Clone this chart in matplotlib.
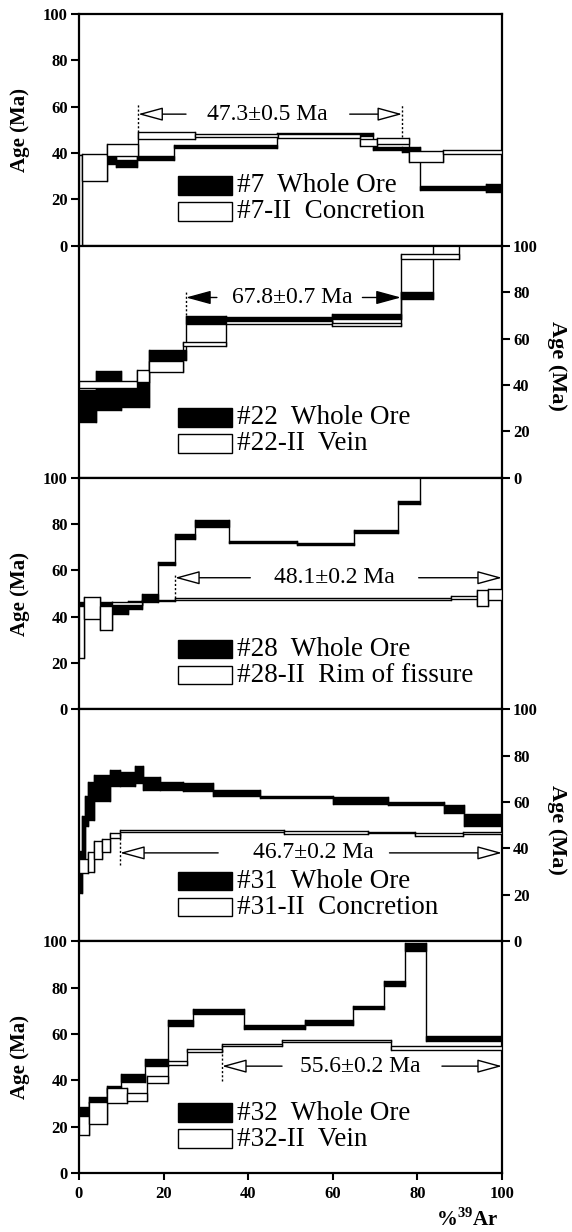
import matplotlib
matplotlib.use("Agg")
import matplotlib.pyplot as plt
from matplotlib.patches import Rectangle

plt.rcParams['font.family'] = ['Liberation Serif', 'DejaVu Serif']
plt.rcParams['mathtext.fontset'] = 'custom'
plt.rcParams['mathtext.rm'] = 'Liberation Serif:bold'
plt.rcParams['mathtext.bf'] = 'Liberation Serif:bold'

# ---------------- data (cumulative %39Ar edges, age Ma, 1-sigma band) ----------------
# Panel 1: #7
whole7_edges = [0, 6.2, 8.8, 13.6, 22.4, 46.9, 69.4, 76.4, 80.7, 96.3, 100]
whole7_age = [38, 37, 35.5, 37.8, 42.8, 48, 42, 41.5, 25, 25]
whole7_err = [1.3, 1.5, 1.6, 1.0, 0.7, 0.7, 0.8, 1.0, 0.8, 1.6]
vein7_edges = [0, 0.6, 6.7, 14, 27.5, 47, 66.5, 70.5, 78, 86, 100]
vein7_age = [19.5, 33.8, 41.3, 47.5, 47.5, 47.3, 44.5, 45.2, 38.5, 40.5]
vein7_err = [19.5, 5.8, 2.5, 1.5, 0.7, 1.0, 1.5, 1.4, 2.3, 1.0]

# Panel 2: #22
whole22_edges = [0, 4, 10, 16.5, 25.3, 34.7, 59.7, 76.1, 83.8, 100]
whole22_age = [31, 37.5, 36, 53, 68, 68, 69.5, 78.5, 110]
whole22_err = [6.9, 8.3, 5.4, 2.2, 1.8, 1.2, 1.0, 1.5, 2]
vein22_edges = [0, 13.6, 16.5, 24.6, 34.7, 59.7, 76.1, 89.8, 100]
vein22_age = [40.3, 43.9, 48, 57.5, 66.9, 66.2, 95.3, 110]
vein22_err = [1.5, 2.5, 2.5, 0.8, 0.7, 0.7, 1.1, 2]

# Panel 3: #28
whole28_edges = [0, 7.9, 11.5, 15, 18.6, 22.7, 27.5, 35.5, 51.5, 65, 75.5, 80.5, 100]
whole28_age = [45.8, 42.9, 45.1, 48, 63, 74.5, 80.3, 72.3, 71.5, 76.7, 89.4, 110]
whole28_err = [0.6, 1.8, 1.8, 1.8, 0.8, 1.0, 1.4, 0.5, 0.5, 0.5, 0.7, 2]
vein28_edges = [0, 1.3, 5.0, 7.9, 15, 22.7, 88, 94.1, 96.7, 100]
vein28_age = [33.5, 43.7, 39.4, 45.8, 47, 47.7, 48.3, 48.2, 49.6]
vein28_err = [11.2, 4.7, 5.1, 0.7, 0.4, 0.35, 0.7, 3.5, 2.2]

# Panel 4: #31
whole31_edges = [0, 0.7, 1.4, 2.2, 3.5, 7.3, 9.7, 13.2, 15.2, 19.1, 24.7, 31.6,
                 42.8, 60, 73, 86.4, 91.1, 100]
whole31_age = [30, 45, 56, 60.5, 66, 70.4, 70, 71.8, 68, 67, 66.5, 64, 62.2,
               60.7, 59.5, 57, 52.3]
whole31_err = [9, 9, 6.5, 8, 5.7, 3.6, 3.2, 3.6, 2.9, 1.8, 1.6, 1.2, 0.5,
               1.3, 0.7, 1.9, 2.5]
vein31_edges = [0, 2.2, 3.5, 5.4, 7.3, 9.7, 48.4, 68.3, 79.5, 90.7, 100]
vein31_age = [32.5, 34, 39.4, 41.3, 45.6, 47.6, 47, 46.8, 46.1, 46.7]
vein31_err = [2.9, 4.3, 4, 3, 1, 0.4, 0.6, 0.3, 0.7, 0.3]

# Panel 5: #32
whole32_edges = [0, 2.4, 6.7, 10, 15.7, 21, 27, 39, 53.5, 64.7, 72, 77, 82, 100]
whole32_age = [26, 31.5, 36, 41, 47.7, 64.8, 69.6, 63, 65, 71.5, 81.8, 97.5, 58]
whole32_err = [2.5, 1.5, 1.5, 1.9, 1.6, 1.3, 1.0, 0.7, 1.0, 0.7, 1.2, 1.9, 1.0]
vein32_edges = [0, 2.4, 6.7, 11.4, 16, 21, 25.6, 33.8, 48, 73.8, 100]
vein32_age = [20.4, 26, 33.4, 32.7, 40.3, 47.5, 53, 55.1, 57, 53.9]
vein32_err = [4, 4.7, 3.3, 1.8, 1.5, 1.0, 0.7, 0.4, 0.4, 0.9]

whole_labels = ["#7  Whole Ore", "#22  Whole Ore", "#28  Whole Ore",
                "#31  Whole Ore", "#32  Whole Ore"]
vein_labels = ["#7-II  Concretion", "#22-II  Vein", "#28-II  Rim of fissure",
               "#31-II  Concretion", "#32-II  Vein"]
plateau_labels = ["47.3\u00b10.5 Ma", "67.8\u00b10.7 Ma", "48.1\u00b10.2 Ma",
                  "46.7\u00b10.2 Ma", "55.6\u00b10.2 Ma"]
yticks = [0, 20, 40, 60, 80, 100]
xticks = [0, 20, 40, 60, 80, 100]

# ---------------- layout / annotation geometry ----------------
panels = [
    (whole7_edges, whole7_age, whole7_err, vein7_edges, vein7_age, vein7_err),
    (whole22_edges, whole22_age, whole22_err, vein22_edges, vein22_age, vein22_err),
    (whole28_edges, whole28_age, whole28_err, vein28_edges, vein28_age, vein28_err),
    (whole31_edges, whole31_age, whole31_err, vein31_edges, vein31_age, vein31_err),
    (whole32_edges, whole32_age, whole32_err, vein32_edges, vein32_age, vein32_err),
]
# (text_x, y, left_tail, left_head, right_tail, right_head, left_dash, right_dash, filled)
annot = [
    (44.5, 56.8, 25.3, 14.0, 64.0, 76.4, (49, 61), (47, 61), False),
    (50.3, 77.7, 32.6, 25.3, 67.0, 76.1, (70, 80.6), None, True),
    (60.4, 56.8, 40.5, 22.7, 80.3, 100, (48.1, 58.3), None, False),
    (55.3, 38.1, 32.9, 9.7, 73.4, 100, (32.7, 47), None, False),
    (66.5, 46.1, 48.0, 33.8, 85.8, 100, (39.6, 55.5), None, False),
]

W, H = 572, 1232
fig = plt.figure(figsize=(W / 100, H / 100), dpi=100)
left_px, right_px = 79, 502
top_px, bot_px = 14, 1173
ph = (bot_px - top_px) / 5.0


def draw_spectrum(ax, edges, ages, errs, fill, z):
    lo = [a - e for a, e in zip(ages, errs)]
    hi = [a + e for a, e in zip(ages, errs)]
    for i in range(len(ages) - 1):
        x = edges[i + 1]
        ax.plot([x, x], [min(lo[i], lo[i + 1]), max(hi[i], hi[i + 1])],
                color='black', lw=1.0, zorder=z)
    for i in range(len(ages)):
        ax.add_patch(Rectangle((edges[i], lo[i]), edges[i + 1] - edges[i],
                               hi[i] - lo[i], facecolor=fill, edgecolor='black',
                               lw=1.0, zorder=z + 0.5))


for p in range(5):
    y_top = top_px + p * ph
    ax = fig.add_axes([left_px / W, 1 - (y_top + ph) / H,
                       (right_px - left_px) / W, ph / H])
    ax.set_xlim(0, 100)
    ax.set_ylim(0, 100)
    we, wa, wr, ve, va, vr = panels[p]
    draw_spectrum(ax, we, wa, wr, 'black', 2)
    draw_spectrum(ax, ve, va, vr, 'white', 4)

    for s in ax.spines.values():
        s.set_linewidth(1.6)
    ax.set_yticks(yticks)
    right = (p % 2 == 1)
    if right:
        ax.yaxis.tick_right()
        ax.yaxis.set_label_position('right')
        ax.set_ylabel('Age (Ma)', fontsize=16, fontweight='bold', rotation=270,
                      va='center')
        ax.yaxis.set_label_coords(1.13, 0.48)
    else:
        ax.set_ylabel('Age (Ma)', fontsize=15, fontweight='bold', va='center')
        ax.yaxis.set_label_coords(-0.14, 0.5)
    ax.tick_params(axis='y', direction='out', length=6, width=1.5,
                   labelsize=12, pad=2)
    for lab in ax.get_yticklabels():
        lab.set_fontweight('bold')
    if p < 4:
        ax.set_xticks([])
    else:
        ax.set_xticks(xticks)
        ax.tick_params(axis='x', direction='out', length=5, width=1.5,
                       labelsize=12, pad=4)
        for lab in ax.get_xticklabels():
            lab.set_fontweight('bold')

    # legend boxes
    ax.add_patch(Rectangle((23.4, 22.0), 12.8, 8.0, facecolor='black',
                           edgecolor='black', lw=1.0, zorder=6))
    ax.add_patch(Rectangle((23.4, 10.8), 12.8, 8.0, facecolor='white',
                           edgecolor='black', lw=1.0, zorder=6))
    ax.text(37.3, 25.8, whole_labels[p], fontsize=19.5, va='center', ha='left',
            zorder=7)
    ax.text(37.3, 14.6, vein_labels[p], fontsize=19.5, va='center', ha='left',
            zorder=7)

    # plateau annotation
    tx, ty, lt, lh, rt, rh, ld, rd, filled = annot[p]
    ax.text(tx, ty, plateau_labels[p], fontsize=17, ha='center', va='center',
            zorder=7)
    fc = 'black' if filled else 'white'
    style = '-|>,head_length=1.1,head_width=0.3'
    for tail, head in ((lt, lh), (rt, rh)):
        ax.annotate('', xy=(head, ty), xytext=(tail, ty),
                    arrowprops=dict(arrowstyle=style, fc=fc, ec='black', lw=1.0,
                                    mutation_scale=14, shrinkA=0, shrinkB=0),
                    zorder=7, annotation_clip=False)
    ax.plot([lh, lh], list(ld), color='black', lw=1.0, ls=(0, (1.5, 1.5)), zorder=7)
    if rd is not None:
        ax.plot([rh, rh], list(rd), color='black', lw=1.0, ls=(0, (1.5, 1.5)),
                zorder=7)

fig.text(467 / W, 1 - 1220 / H, r'%$^{39}$Ar', fontsize=15, fontweight='bold',
         ha='center', va='center')

fig.savefig('out.png', dpi=100)
